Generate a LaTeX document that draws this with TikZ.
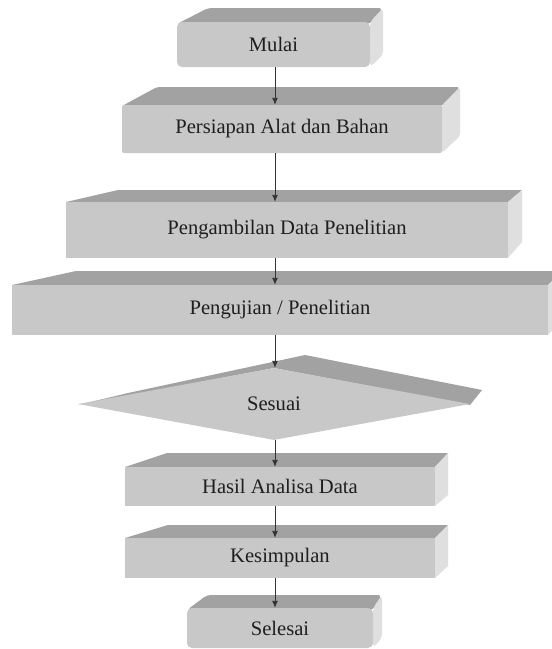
\documentclass[tikz,border=0pt]{standalone}
\usepackage{fontspec}
\setmainfont{Liberation Serif}
\usetikzlibrary{shapes.geometric,arrows.meta}
\definecolor{frontc}{HTML}{C8C8C8}
\definecolor{topc}{HTML}{A2A2A2}
\definecolor{sidec}{HTML}{DFDFDF}
\definecolor{txtc}{HTML}{1E1E1E}
\definecolor{linec}{HTML}{333333}
\tikzset{
  front/.style={fill=frontc, draw=none, inner sep=0pt, text=txtc,
    font=\fontsize{20.6}{24}\selectfont},
  topface/.style={fill=topc, draw=none},
  sideface/.style={fill=sidec, draw=none},
  arr/.style={draw=linec, line width=0.9pt, -{Latex[length=7pt,width=6pt]}},
}
\begin{document}
\begin{tikzpicture}[x=1pt,y=-1pt]
\useasboundingbox (0,0) rectangle (552,649);
\clip (0,0) rectangle (552,649);
\fill[white] (0,0) rectangle (552,649);
\coordinate (ax) at (275,0);

% Box 1: Mulai
\fill[topface, rounded corners=4pt] (177,24) -- (208,8) -- (383,8) -- (370,24) -- cycle;
\fill[sideface, rounded corners=4pt] (370,22) -- (383,8) -- (383,55) -- (370,67) -- cycle;
\node[front, rounded corners=5pt, minimum width=193pt, minimum height=45pt] (mulai) at (273.5,44.5) {Mulai};

% Box 2: Persiapan
\fill[topface, rounded corners=3pt] (122,106) -- (157,87) -- (460,87) -- (442,106) -- cycle;
\fill[sideface, rounded corners=3pt] (442,105) -- (460,87) -- (460,136) -- (442,153) -- cycle;
\node[front, rounded corners=2pt, minimum width=320pt, minimum height=48pt] (persiapan) at (282,129) {Persiapan Alat dan Bahan};

% Box 3: Pengambilan
\fill[topface] (66,202) -- (118,190) -- (522,190) -- (508,202) -- cycle;
\fill[sideface] (508,202) -- (522,190) -- (522,242) -- (508,258) -- cycle;
\node[front, minimum width=442pt, minimum height=56pt] (ambil) at (287,230) {Pengambilan Data Penelitian};

% Box 4: Pengujian
\fill[topface] (12,285) -- (76,271) -- (562,271) -- (548,285) -- cycle;
\fill[sideface] (548,285) -- (562,271) -- (562,320) -- (548,335) -- cycle;
\node[front, minimum width=536pt, minimum height=50pt] (uji) at (280,310) {Pengujian / Penelitian};

% Decision: Sesuai
\fill[topface] (78,405) -- (128,393) -- (305,355) -- (482,390) -- (470,405) -- (274,368) -- cycle;
\node[front, diamond, minimum width=392pt, minimum height=72pt] (sesuai) at (274,404) {Sesuai};

% Box 5: Hasil
\fill[topface] (125,467) -- (167,453) -- (448,453) -- (435,467) -- cycle;
\fill[sideface] (435,467) -- (448,453) -- (448,495) -- (435,506) -- cycle;
\node[front, minimum width=310pt, minimum height=39pt] (hasil) at (280,486.5) {Hasil Analisa Data};

% Box 6: Kesimpulan
\fill[topface] (125,538) -- (168,525) -- (448,525) -- (435,538) -- cycle;
\fill[sideface] (435,538) -- (448,525) -- (448,566) -- (435,578) -- cycle;
\node[front, minimum width=310pt, minimum height=40pt] (simpul) at (280,558) {Kesimpulan};

% Box 7: Selesai
\fill[topface, rounded corners=4pt] (187,610) -- (207,595) -- (382,595) -- (373,610) -- cycle;
\fill[sideface, rounded corners=4pt] (373,608) -- (382,595) -- (382,638) -- (373,648) -- cycle;
\node[front, rounded corners=5pt, minimum width=186pt, minimum height=40pt] (selesai) at (280,628) {Selesai};

% Connectors
\draw[arr] (ax |- mulai.south) -- (ax |- persiapan.north);
\draw[arr] (ax |- persiapan.south) -- (ax |- ambil.north);
\draw[arr] (ax |- ambil.south) -- (ax |- uji.north);
\draw[arr] (ax |- uji.south) -- (ax |- sesuai.north);
\draw[arr] (ax |- sesuai.south) -- (ax |- hasil.north);
\draw[arr] (ax |- hasil.south) -- (ax |- simpul.north);
\draw[arr] (ax |- simpul.south) -- (ax |- selesai.north);
\end{tikzpicture}
\end{document}
